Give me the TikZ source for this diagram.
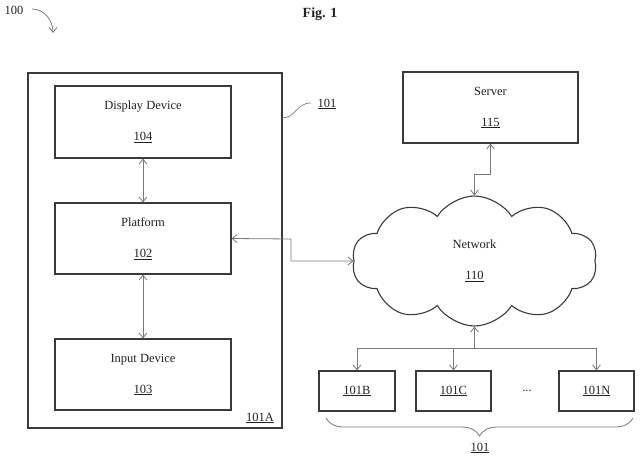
\documentclass[tikz,border=0pt]{standalone}
\usepackage{fontspec}
\setmainfont{Liberation Serif}
\usetikzlibrary{arrows.meta,shapes.symbols,decorations.pathreplacing,calc}
\definecolor{boxgray}{HTML}{3A3A3A}
\definecolor{arrowgray}{HTML}{7A7A7A}
\definecolor{txt}{HTML}{222222}
\begin{document}
\begin{tikzpicture}[x=1pt,y=-1pt,
  font=\fontsize{12.5}{15}\selectfont, text=txt,
  box/.style={draw=boxgray, line width=1.1pt, inner sep=0pt, align=center},
  conn/.style={draw=arrowgray, line width=0.8pt},
  tip/.style={-{Straight Barb[length=5pt,width=8pt]}},
  tips/.style={{Straight Barb[length=5pt,width=8pt]}-{Straight Barb[length=5pt,width=8pt]}},
  lbl/.style={inner sep=0pt}
]
\useasboundingbox (0,0) rectangle (640,460);
% title and figure number
\node[lbl, font=\fontsize{14}{16}\selectfont\bfseries] (title) at (320,14) {Fig. 1};
\node[lbl] (l100) at (14,10) {100};
\coordinate (h1) at (32,9);
\coordinate (h2) at (53,33);
\draw[conn,tip] (h1) .. controls (44,9) and (53,20) .. (h2);

% outer device
\node[box, minimum width=254pt, minimum height=355pt] (outer) at (155,250.5) {};
\node[lbl] (l101A) at (260,418) {\underline{101A}};
\node[lbl] (l101) at (327,104) {\underline{101}};
\coordinate (ld1) at (282,118);
\coordinate (ld2) at (311,103);
\draw[conn, line width=0.7pt] (ld1) .. controls (296,118) and (296,103) .. (ld2);

\node[box, minimum width=176pt, minimum height=72pt] (disp) at (143,122) {Display Device\\[16pt]\underline{104}};
\node[box, minimum width=176pt, minimum height=71pt] (plat) at (143,238.5) {Platform\\[16pt]\underline{102}};
\node[box, minimum width=176pt, minimum height=71pt] (inp) at (143,374.5) {Input Device\\[16pt]\underline{103}};
\draw[conn,tips] (disp.south) -- (plat.north);
\draw[conn,tips] (plat.south) -- (inp.north);

% server
\node[box, minimum width=175pt, minimum height=71pt] (srv) at (490.5,107.5) {Server\\[16pt]\underline{115}};

% network cloud
\node[cloud, draw=boxgray, line width=1.1pt, cloud puffs=10, cloud puff arc=115, aspect=1.87,
      minimum width=245pt, minimum height=130pt, inner sep=0pt, align=center] (net) at (474.5,261)
      {Network\\[16pt]\underline{110}};

% platform <-> network
\coordinate (pb) at (291,239);
\draw[conn,tips] (plat.east) -- (pb) |- (net.west);
% network <-> server
\coordinate (sb) at (490.5,174);
\draw[conn,tips] (net.north) |- (sb) -- (srv.south);

% client devices
\node[box, minimum width=76pt, minimum height=40pt] (b) at (357,391) {\underline{101B}};
\node[box, minimum width=75pt, minimum height=40pt] (c) at (453.5,391) {\underline{101C}};
\node[box, minimum width=75pt, minimum height=40pt] (n) at (596.5,391) {\underline{101N}};
\node[lbl] (dots) at (527,391) {...};
\coordinate (bus) at (474.5,348);
\draw[conn,tip] (bus) -- (net.south);
\draw[conn,tip] (bus) -| (b.north);
\draw[conn,tip] (bus) -| (c.north);
\draw[conn,tip] (bus) -| (n.north);

% brace
\coordinate (br1) at (326,418);
\coordinate (br2) at (633,418);
\draw[conn, decorate, decoration={brace, amplitude=18pt}] (br2) -- (br1);
\node[lbl] (l101b) at (480,448) {\underline{101}};
\end{tikzpicture}
\end{document}
